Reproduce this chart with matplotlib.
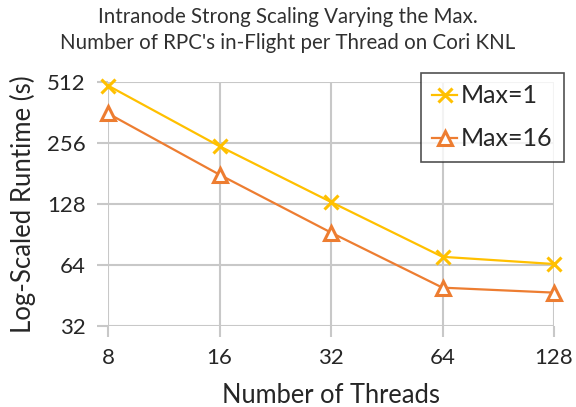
import matplotlib
matplotlib.use("Agg")
import matplotlib.pyplot as plt
from matplotlib.ticker import FixedLocator, FixedFormatter, NullLocator

plt.rcParams['font.family'] = ['Lato', 'DejaVu Sans']

threads = [8, 16, 32, 64, 128]
runtime_max1 = [490, 246, 130.5, 70, 64.5]
runtime_max16 = [357, 178, 92.2, 49.3, 46.6]
y_ticks = [32, 64, 128, 256, 512]

title = "Intranode Strong Scaling Varying the Max.\nNumber of RPC's in-Flight per Thread on Cori KNL"

fig = plt.figure(figsize=(5.76, 4.07), dpi=100)
ax = fig.add_axes([108 / 576, 1 - 325.7 / 407, (554 - 108) / 576, (325.7 - 81.7) / 407])

ax.set_xscale('log', base=2)
ax.set_yscale('log', base=2)
ax.set_xlim(8, 128)
ax.set_ylim(32, 512)

ax.plot(threads, runtime_max1, color='#FFC000', lw=1.6, marker='x', ms=10,
        mew=2.2, label='Max=1', zorder=3, clip_on=False)
ax.plot(threads, runtime_max16, color='#ED7D31', lw=1.6, marker='^', ms=10,
        mew=2.2, mfc='white', label='Max=16', zorder=3, clip_on=False)

ax.xaxis.set_major_locator(FixedLocator(threads))
ax.xaxis.set_major_formatter(FixedFormatter([str(t) for t in threads]))
ax.xaxis.set_minor_locator(NullLocator())
ax.yaxis.set_major_locator(FixedLocator(y_ticks))
ax.yaxis.set_major_formatter(FixedFormatter([str(t) for t in y_ticks]))
ax.yaxis.set_minor_locator(NullLocator())

grid_color = '#C8C8C8'
ax.grid(True, color=grid_color, lw=1.5)
for s in ax.spines.values():
    s.set_visible(False)
ax.tick_params(axis='both', length=8, width=1.5, color=grid_color,
               labelsize=16, labelcolor='#262626', pad=8)

ax.set_xlabel('Number of Threads', fontsize=18.4, color='#262626', labelpad=11)
ax.set_ylabel('Log-Scaled Runtime (s)', fontsize=18.5, color='#262626', labelpad=8)
fig.text(0.5, 0.982, title, ha='center', va='top', fontsize=14.8,
         color='#303030', linespacing=1.38)

leg = ax.legend(loc='upper right', bbox_to_anchor=(564 / 576, 1 - 73 / 407),
                bbox_transform=fig.transFigure, fontsize=18, frameon=True,
                fancybox=False, edgecolor='#262626', handlelength=1.0,
                handletextpad=0.15, labelspacing=0.8, borderpad=0.45,
                borderaxespad=0)
leg.get_frame().set_linewidth(1.2)
for t in leg.get_texts():
    t.set_color('#262626')

fig.savefig('out.png', dpi=100)
